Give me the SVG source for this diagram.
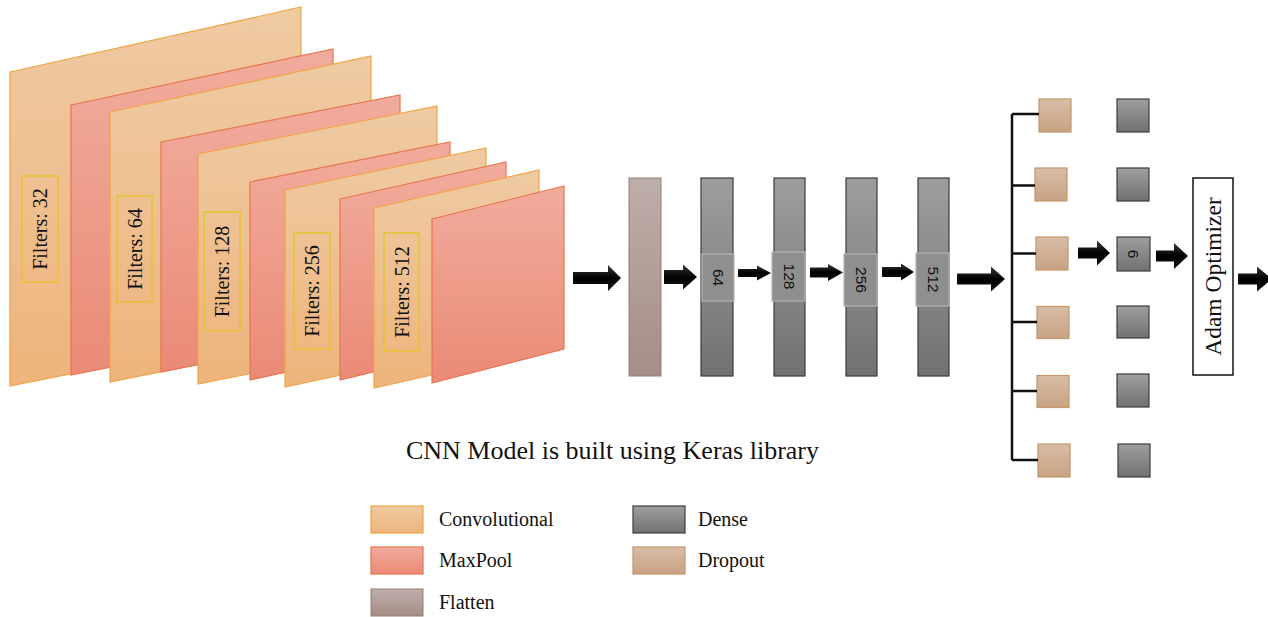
<svg xmlns="http://www.w3.org/2000/svg" width="1268" height="617" viewBox="0 0 1268 617">
<defs>
<linearGradient id="gConv" x1="0" y1="0" x2="0" y2="1"><stop offset="0" stop-color="#EFCAA2"/><stop offset="1" stop-color="#EDB47C"/></linearGradient>
<linearGradient id="gPool" x1="0" y1="0" x2="0" y2="1"><stop offset="0" stop-color="#F1AC9D"/><stop offset="1" stop-color="#EA8A76"/></linearGradient>
<linearGradient id="gFlat" x1="0" y1="0" x2="0" y2="1"><stop offset="0" stop-color="#BEAEA9"/><stop offset="1" stop-color="#A48E86"/></linearGradient>
<linearGradient id="gDense" x1="0" y1="0" x2="0" y2="1"><stop offset="0" stop-color="#9E9E9E"/><stop offset="1" stop-color="#717171"/></linearGradient>
<linearGradient id="gDrop" x1="0" y1="0" x2="0" y2="1"><stop offset="0" stop-color="#D7BDA7"/><stop offset="1" stop-color="#C8A283"/></linearGradient>
<linearGradient id="gArrow" x1="0" y1="0" x2="0" y2="1"><stop offset="0" stop-color="#3a3a3a"/><stop offset="0.5" stop-color="#000"/><stop offset="1" stop-color="#151515"/></linearGradient>
<style>
.conv{fill:url(#gConv);stroke:#F0A444;stroke-width:1.2}
.pool{fill:url(#gPool);stroke:#E8744F;stroke-width:1.2}
.flat{fill:url(#gFlat);stroke:#957C72;stroke-width:1}
.dense{fill:url(#gDense);stroke:#3c3c3c;stroke-width:1.2}
.drop{fill:url(#gDrop);stroke:#C4966A;stroke-width:1.2}
.fbox{fill:none;stroke:#E8C232;stroke-width:1.5}
.lbox{fill:#8f8f8f;stroke:#b4b4b4;stroke-width:1.2}
.arrow{fill:url(#gArrow)}
.serif{font-family:"Liberation Serif","Times New Roman",serif;fill:#111}
.ftxt{font-size:20px}
.num{font-family:"Liberation Sans",Arial,sans-serif;font-size:15.5px;fill:#111}
.leg{font-size:20px}
.line{stroke:#111;stroke-width:2.5;fill:none}
</style>
</defs>

<g id="conv-stack">
<g id="conv1"><polygon class="conv" points="10,72 301,7 301,328 10,386"/></g>
<g id="pool1"><polygon class="pool" points="71,105 333,49 333,323 71,375"/></g>
<g id="conv2"><polygon class="conv" points="110,112 371,56 371,330 110,382"/></g>
<g id="pool2"><polygon class="pool" points="161,142 400,95 400,324 161,372"/></g>
<g id="conv3"><polygon class="conv" points="198,154 437,106 437,336 198,384"/></g>
<g id="pool3"><polygon class="pool" points="250,182 450,142 450,336 250,380"/></g>
<g id="conv4"><polygon class="conv" points="285,190 486,148 486,344 285,387"/></g>
<g id="pool4"><polygon class="pool" points="340,199 506,162 506,340 340,380"/></g>
<g id="conv5"><polygon class="conv" points="374,208 539,170 539,351 374,388"/></g>
<g id="pool5"><polygon class="pool" points="432,219 564,186 564,349 432,383"/></g>
</g>

<g id="filter-labels">
<g id="lab32"><rect class="fbox" x="22" y="176" width="36" height="106"/><text class="serif ftxt" transform="translate(40,229) rotate(-90)" text-anchor="middle" dominant-baseline="central">Filters: 32</text></g>
<g id="lab64"><rect class="fbox" x="117" y="196" width="35" height="106"/><text class="serif ftxt" transform="translate(134.5,249) rotate(-90)" text-anchor="middle" dominant-baseline="central">Filters: 64</text></g>
<g id="lab128"><rect class="fbox" x="204" y="212" width="36" height="119"/><text class="serif ftxt" transform="translate(222,271.5) rotate(-90)" text-anchor="middle" dominant-baseline="central">Filters: 128</text></g>
<g id="lab256"><rect class="fbox" x="294" y="233" width="36" height="116"/><text class="serif ftxt" transform="translate(312,291) rotate(-90)" text-anchor="middle" dominant-baseline="central">Filters: 256</text></g>
<g id="lab512"><rect class="fbox" x="384" y="233" width="35" height="118"/><text class="serif ftxt" transform="translate(401.5,292) rotate(-90)" text-anchor="middle" dominant-baseline="central">Filters: 512</text></g>
</g>

<g id="flatten"><rect class="flat" x="629" y="178" width="32" height="198"/></g>

<g id="dense64"><rect class="dense" x="701" y="178" width="32" height="198"/><rect class="lbox" x="702" y="254" width="32" height="47"/><text class="num" transform="translate(718,277.5) rotate(90)" text-anchor="middle" dominant-baseline="central">64</text></g>
<g id="dense128"><rect class="dense" x="774" y="178" width="31" height="198"/><rect class="lbox" x="772" y="252" width="33" height="49"/><text class="num" transform="translate(789,276.5) rotate(90)" text-anchor="middle" dominant-baseline="central">128</text></g>
<g id="dense256"><rect class="dense" x="846" y="178" width="31" height="198"/><rect class="lbox" x="844" y="254" width="33" height="52"/><text class="num" transform="translate(861,280) rotate(90)" text-anchor="middle" dominant-baseline="central">256</text></g>
<g id="dense512"><rect class="dense" x="918" y="178" width="31" height="198"/><rect class="lbox" x="916" y="253" width="33" height="53"/><text class="num" transform="translate(933,279.5) rotate(90)" text-anchor="middle" dominant-baseline="central">512</text></g>

<g id="dropouts">
<g id="drop1"><rect class="drop" x="1039" y="99" width="32" height="33"/></g>
<g id="drop2"><rect class="drop" x="1035" y="168" width="32" height="33"/></g>
<g id="drop3"><rect class="drop" x="1036" y="237" width="32" height="33"/></g>
<g id="drop4"><rect class="drop" x="1037" y="306.5" width="32" height="32"/></g>
<g id="drop5"><rect class="drop" x="1037" y="375.5" width="32" height="32"/></g>
<g id="drop6"><rect class="drop" x="1038" y="444" width="32" height="33"/></g>
</g>

<g id="outputs">
<g id="out1"><rect class="dense" x="1117" y="99" width="32" height="33"/></g>
<g id="out2"><rect class="dense" x="1117" y="168" width="32" height="33"/></g>
<g id="out3"><rect class="dense" x="1117" y="237" width="33" height="34"/><text class="num" transform="translate(1133.5,254) rotate(90)" text-anchor="middle" dominant-baseline="central">6</text></g>
<g id="out4"><rect class="dense" x="1117" y="306" width="32" height="32"/></g>
<g id="out5"><rect class="dense" x="1117" y="374" width="32" height="33"/></g>
<g id="out6"><rect class="dense" x="1118" y="444" width="32" height="33"/></g>
</g>

<g id="adam"><rect x="1193" y="178" width="40" height="197" fill="#fff" stroke="#111" stroke-width="1.5"/><text class="serif" font-size="23.5" transform="translate(1213,276.5) rotate(-90)" text-anchor="middle" dominant-baseline="central">Adam Optimizer</text></g>

<g id="connectors">
<path class="line" d="M1012,114 V460 M1012,114 H1039 M1012,185.5 H1035 M1012,253.5 H1036 M1012,322 H1037 M1012,391 H1037 M1012,460 H1038"/>
<path class="arrow" d="M573,272 H608 V265 L621,278 L608,291 V284 H573 Z"/>
<path class="arrow" d="M664,270 H683 V264.5 L697,277 L683,289.5 V284 H664 Z"/>
<path class="arrow" d="M738,269 H757 V265.5 L771,273 L757,280.5 V277 H738 Z"/>
<path class="arrow" d="M810,267.5 H828 V264 L843,272.5 L828,281 V277.5 H810 Z"/>
<path class="arrow" d="M882,267 H901 V263.5 L914,272 L901,280.5 V277 H882 Z"/>
<path class="arrow" d="M957,273.5 H991 V266.5 L1005,279 L991,291.5 V284.5 H957 Z"/>
<path class="arrow" d="M1078,247.5 H1097 V240.5 L1110,253 L1097,265.5 V258.5 H1078 Z"/>
<path class="arrow" d="M1156,250.5 H1174 V243 L1188,256 L1174,269 V261.5 H1156 Z"/>
<path class="arrow" d="M1238,273.5 H1257 V266.5 L1272,279 L1257,291.5 V284.5 H1238 Z"/>
</g>

<g id="title"><text class="serif" font-size="26" x="612.5" y="459" text-anchor="middle">CNN Model is built using Keras library</text></g>

<g id="legend">
<rect class="conv" x="371" y="506" width="52" height="27"/><text class="serif leg" x="439" y="526">Convolutional</text>
<rect class="pool" x="371" y="547" width="52" height="27"/><text class="serif leg" x="439" y="567">MaxPool</text>
<rect class="flat" x="371" y="589" width="52" height="27"/><text class="serif leg" x="439" y="609">Flatten</text>
<rect class="dense" x="633" y="506" width="52" height="27"/><text class="serif leg" x="698" y="526">Dense</text>
<rect class="drop" x="633" y="547" width="52" height="27"/><text class="serif leg" x="698" y="567">Dropout</text>
</g>
</svg>
